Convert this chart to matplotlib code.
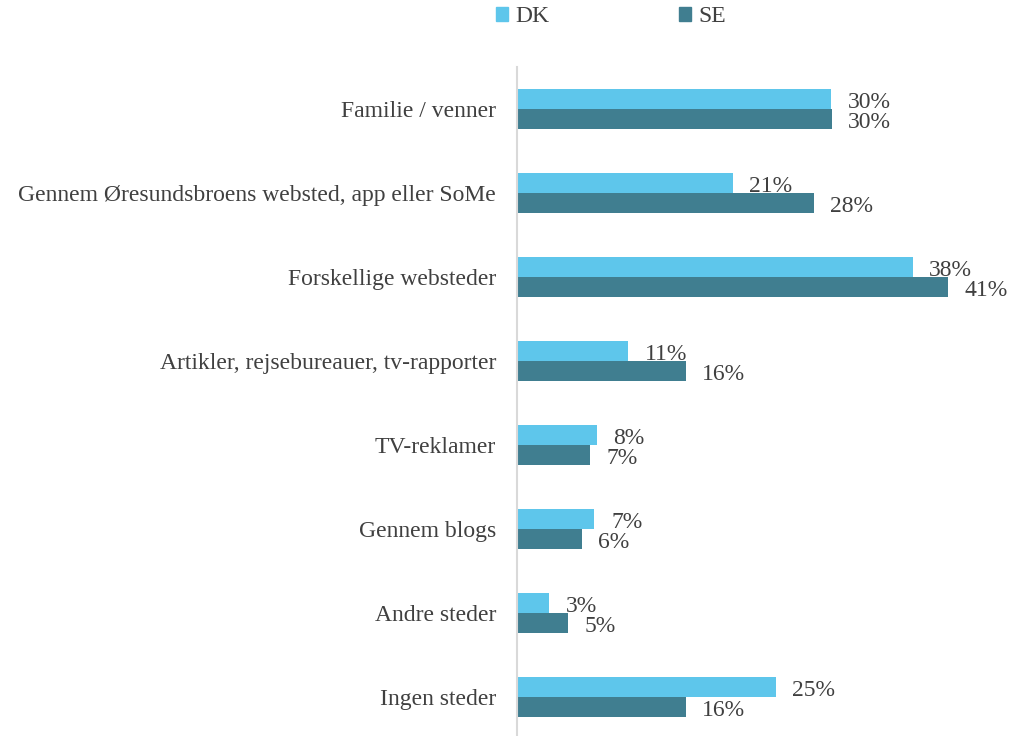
import matplotlib
matplotlib.use("Agg")
import matplotlib.pyplot as plt
from matplotlib.patches import Patch

categories = ["Familie / venner",
              "Gennem Øresundsbroens websted, app eller SoMe",
              "Forskellige websteder",
              "Artikler, rejsebureauer, tv-rapporter",
              "TV-reklamer",
              "Gennem blogs",
              "Andre steder",
              "Ingen steder"]
dk = [30.0, 20.6, 37.8, 10.6, 7.6, 7.4, 3.1, 24.7]
se = [30.1, 28.4, 41.2, 16.1, 7.0, 6.2, 4.9, 16.1]
series_names = ["DK", "SE"]

c_dk = "#5EC6EB"
c_se = "#407E90"
txt = "#404040"

plt.rcParams['font.family'] = ['Liberation Serif', 'DejaVu Serif']

fig = plt.figure(figsize=(10.13, 7.36), dpi=100)
ax = fig.add_axes([517/1013, 1-739/736, (988-517)/1013, (739-67)/736])

n = len(categories)
y = list(range(n))
h = 20/84
ax.barh([i - h/2 for i in y], dk, height=h, color=c_dk, label=series_names[0])
ax.barh([i + h/2 for i in y], se, height=h, color=c_se, label=series_names[1])

for i in y:
    ax.annotate(f"{dk[i]:.0f}%", (dk[i], i - h/2), xytext=(12, -2.5), textcoords="offset points",
                fontsize=17, color=txt, va="center", ha="left")
    ax.annotate(f"{se[i]:.0f}%", (se[i], i + h/2), xytext=(11.5, -2.5), textcoords="offset points",
                fontsize=17, color=txt, va="center", ha="left")

ax.set_xlim(0, 45)
ax.set_ylim(n - 0.5, -0.5)
ax.set_yticks(y)
ax.set_yticklabels(categories, fontsize=17, color=txt)
ax.tick_params(axis='y', length=0, pad=15)
ax.set_xticks([])
for s in ["top", "right", "bottom"]:
    ax.spines[s].set_visible(False)
ax.spines["left"].set_color("#D9D9D9")
ax.spines["left"].set_linewidth(1.5)

handles = [Patch(color=c_dk, label="DK"), Patch(color=c_se, label="SE")]
fig.legend(handles=handles, loc="center", bbox_to_anchor=(611/1013, 1-17/736), ncol=2,
           frameon=False, fontsize=17, handlelength=0.5, handleheight=0.5,
           handletextpad=0.3, columnspacing=5.5, labelcolor=txt)

fig.savefig("out.png", dpi=100)
